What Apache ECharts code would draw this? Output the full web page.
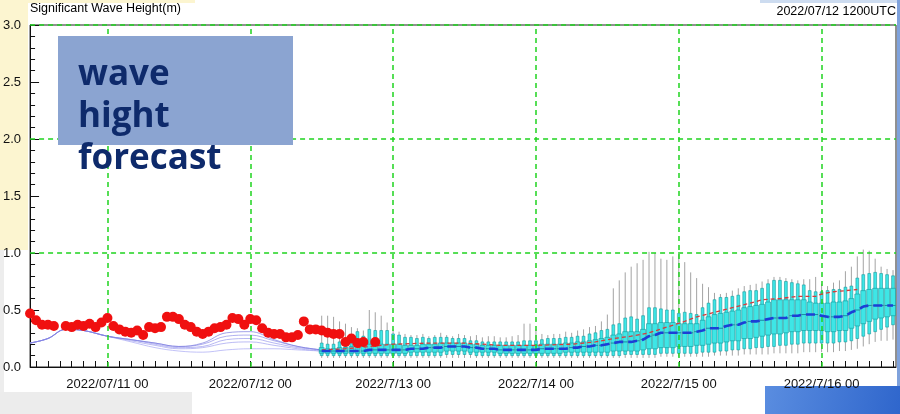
<!DOCTYPE html>
<html><head><meta charset="utf-8">
<script src="https://cdn.jsdelivr.net/npm/echarts@6/dist/echarts.min.js"></script>
<style>html,body{margin:0;padding:0;background:#fff}#c{width:900px;height:414px}</style>
</head><body><div id="c"></div>
<script>
// ---------- text ----------
const titleText = 'Significant Wave Height(m)';
const initText = '2022/07/12 1200UTC';
const overlayLines = ['wave', 'hight', 'forecast'];

// ---------- x axis (hours since 2022/07/10 00UTC) ----------
const dayHours = [24, 48, 72, 96, 120, 144];
const dayLabels = ['2022/07/11 00', '2022/07/12 00', '2022/7/13 00', '2022/7/14 00', '2022/7/15 00', '2022/7/16 00'];
const tickHours = [];
for (let h = 12; h <= 156; h += 2) tickHours.push(h);

// ---------- observations (red dots), hourly from h=11 ----------
const obsStart = 11;
const obsValues = [0.47,0.41,0.37,0.37,0.36,null,0.36,0.35,0.37,0.36,
  0.38,0.35,0.39,0.43,0.36,0.33,0.31,0.30,0.32,0.28,
  0.35,0.34,0.35,0.44,0.44,0.42,0.37,0.35,0.31,0.29,
  0.31,0.34,0.35,0.37,0.43,0.42,0.37,0.42,0.41,0.34,
  0.30,0.29,0.29,0.26,0.26,0.28,0.40,0.33,0.33,0.32,
  0.30,0.29,0.29,0.22,0.25,0.21,0.22,null,0.22];

// ---------- hindcast thin lines ----------
const hindHours = [11,14,17,20,24,28,32,36,40,44,48,52,56,60];
const hind1 = [0.21,0.25,0.33,0.32,0.27,0.24,0.21,0.18,0.21,0.30,0.31,0.24,0.18,0.15];
const hind2 = [0.21,0.25,0.33,0.32,0.27,0.24,0.21,0.18,0.20,0.27,0.28,0.23,0.18,0.15];
const hind3 = [0.21,0.25,0.33,0.32,0.27,0.24,0.20,0.17,0.18,0.24,0.25,0.21,0.17,0.15];
const hind4 = [0.21,0.25,0.33,0.32,0.27,0.23,0.19,0.16,0.17,0.21,0.22,0.19,0.16,0.14];
const hind5 = [0.21,0.25,0.33,0.32,0.27,0.22,0.17,0.14,0.13,0.15,0.16,0.16,0.15,0.14];

// ---------- ensemble box plots, hourly from h=60 ----------
const fcstStart = 60;
const boxMin = [0.08,0.08,0.08,0.08,0.08,0.08,0.08,0.08,0.08,0.08,
  0.08,0.08,0.08,0.08,0.08,0.08,0.08,0.08,0.08,0.08,
  0.08,0.08,0.08,0.08,0.08,0.08,0.08,0.08,0.08,0.08,
  0.08,0.08,0.08,0.08,0.08,0.08,0.08,0.08,0.08,0.08,
  0.08,0.08,0.08,0.08,0.08,0.08,0.08,0.08,0.08,0.08,
  0.08,0.08,0.08,0.08,0.08,0.08,0.08,0.09,0.09,0.09,
  0.09,0.09,0.09,0.09,0.09,0.09,0.10,0.10,0.10,0.10,
  0.10,0.11,0.11,0.11,0.11,0.11,0.12,0.12,0.12,0.12,
  0.12,0.13,0.13,0.13,0.13,0.13,0.13,0.14,0.14,0.15,
  0.16,0.18,0.20,0.22,0.23,0.23,0.24];
const boxP10 = [0.10,0.10,0.10,0.10,0.10,0.10,0.10,0.10,0.10,0.10,
  0.10,0.10,0.10,0.10,0.10,0.10,0.10,0.10,0.10,0.10,
  0.10,0.11,0.11,0.11,0.11,0.11,0.10,0.10,0.10,0.10,
  0.10,0.10,0.10,0.10,0.10,0.10,0.10,0.10,0.10,0.10,
  0.10,0.10,0.10,0.10,0.10,0.10,0.10,0.10,0.10,0.10,
  0.10,0.11,0.11,0.11,0.11,0.11,0.11,0.12,0.12,0.12,
  0.12,0.12,0.12,0.12,0.13,0.13,0.13,0.14,0.14,0.15,
  0.15,0.16,0.16,0.17,0.17,0.18,0.18,0.19,0.19,0.20,
  0.20,0.21,0.21,0.21,0.21,0.21,0.21,0.22,0.22,0.23,
  0.25,0.27,0.29,0.31,0.33,0.35,0.37];
const boxQ1 = [0.12,0.12,0.12,0.12,0.12,0.12,0.12,0.12,0.12,0.12,
  0.12,0.12,0.12,0.12,0.12,0.13,0.13,0.13,0.13,0.13,
  0.13,0.14,0.14,0.14,0.14,0.13,0.13,0.13,0.13,0.13,
  0.12,0.12,0.12,0.12,0.12,0.12,0.12,0.12,0.12,0.12,
  0.12,0.13,0.13,0.13,0.13,0.13,0.13,0.13,0.13,0.14,
  0.14,0.14,0.14,0.14,0.15,0.16,0.16,0.17,0.17,0.17,
  0.18,0.18,0.18,0.19,0.19,0.20,0.21,0.21,0.22,0.23,
  0.23,0.25,0.25,0.26,0.27,0.28,0.29,0.29,0.30,0.31,
  0.31,0.32,0.32,0.32,0.32,0.31,0.31,0.32,0.32,0.34,
  0.36,0.38,0.40,0.42,0.43,0.44,0.45];
const boxMed = [0.14,0.14,0.14,0.14,0.14,0.14,0.14,0.14,0.15,0.15,
  0.15,0.15,0.15,0.15,0.15,0.16,0.16,0.16,0.17,0.17,
  0.17,0.18,0.18,0.18,0.18,0.17,0.17,0.16,0.16,0.16,
  0.15,0.15,0.15,0.15,0.15,0.15,0.15,0.16,0.16,0.16,
  0.16,0.16,0.17,0.17,0.18,0.18,0.19,0.19,0.20,0.21,
  0.22,0.22,0.22,0.23,0.24,0.27,0.28,0.30,0.30,0.30,
  0.30,0.30,0.30,0.31,0.32,0.34,0.34,0.34,0.36,0.37,
  0.37,0.39,0.40,0.40,0.41,0.42,0.43,0.43,0.43,0.45,
  0.45,0.46,0.46,0.46,0.45,0.44,0.44,0.44,0.45,0.48,
  0.50,0.53,0.54,0.54,0.54,0.54,0.54];
const boxQ3 = [0.17,0.16,0.16,0.17,0.17,0.18,0.19,0.18,0.20,0.20,
  0.20,0.20,0.20,0.20,0.19,0.19,0.19,0.20,0.20,0.20,
  0.21,0.21,0.21,0.21,0.21,0.20,0.20,0.19,0.19,0.19,
  0.19,0.19,0.19,0.19,0.19,0.19,0.19,0.20,0.20,0.20,
  0.20,0.21,0.21,0.22,0.22,0.23,0.24,0.25,0.26,0.28,
  0.29,0.31,0.31,0.31,0.33,0.38,0.38,0.39,0.39,0.39,
  0.38,0.38,0.38,0.38,0.41,0.44,0.46,0.47,0.48,0.49,
  0.50,0.52,0.53,0.54,0.55,0.57,0.59,0.59,0.59,0.59,
  0.59,0.59,0.57,0.56,0.56,0.56,0.57,0.57,0.58,0.60,
  0.64,0.67,0.68,0.69,0.69,0.69,0.69];
const boxP90 = [0.21,0.20,0.20,0.22,0.22,0.28,0.31,0.27,0.33,0.32,
  0.32,0.32,0.29,0.28,0.26,0.26,0.25,0.26,0.25,0.26,
  0.26,0.26,0.25,0.25,0.25,0.23,0.23,0.22,0.22,0.22,
  0.22,0.22,0.22,0.22,0.23,0.23,0.23,0.24,0.25,0.25,
  0.25,0.26,0.26,0.27,0.27,0.29,0.30,0.32,0.33,0.37,
  0.38,0.43,0.44,0.42,0.45,0.52,0.52,0.51,0.50,0.50,
  0.47,0.48,0.47,0.46,0.52,0.56,0.59,0.61,0.61,0.62,
  0.63,0.66,0.67,0.67,0.69,0.73,0.76,0.76,0.75,0.74,
  0.73,0.72,0.67,0.66,0.66,0.67,0.68,0.68,0.70,0.71,
  0.78,0.81,0.82,0.83,0.82,0.81,0.80];
const boxMax = [0.45,0.45,0.44,0.40,0.38,0.35,0.34,0.32,0.50,0.48,
  0.45,0.39,0.33,0.31,0.29,0.28,0.28,0.29,0.27,0.28,
  0.30,0.28,0.27,0.29,0.28,0.27,0.28,0.26,0.27,0.27,
  0.26,0.26,0.27,0.28,0.38,0.38,0.33,0.29,0.28,0.29,
  0.29,0.31,0.30,0.32,0.33,0.35,0.36,0.40,0.46,0.69,
  0.76,0.83,0.88,0.91,0.94,1.01,1.00,0.95,0.94,0.97,
  0.99,0.92,0.83,0.78,0.73,0.70,0.65,0.64,0.65,0.67,
  0.69,0.71,0.72,0.73,0.75,0.77,0.79,0.79,0.78,0.77,
  0.76,0.77,0.77,0.79,0.73,0.71,0.74,0.76,0.84,0.88,
  0.97,1.03,1.02,0.95,0.88,0.86,0.85];

// ---------- control run (red dashed) ----------
const ctrlHours = [60,64,68,72,78,84,90,96,102,106,109,112,115,118,121,123,126,129,132,134,137,140,143,144,146,148,150];
const ctrlValues = [0.15,0.16,0.18,0.20,0.21,0.21,0.19,0.19,0.20,0.22,0.25,0.27,0.30,0.35,0.40,0.44,0.48,0.52,0.56,0.59,0.60,0.62,0.62,0.64,0.66,0.67,0.68];

// ---------- build ----------
const obsData = [];
obsValues.forEach((v, i) => { if (v !== null) obsData.push([obsStart + i, v]); });
const fcstHours = boxMed.map((_, i) => fcstStart + i);
const boxData = fcstHours.map((h, i) => [h, boxMin[i], boxP10[i], boxQ1[i], boxMed[i], boxQ3[i], boxP90[i], boxMax[i]]);
const medData = fcstHours.map((h, i) => [h, boxMed[i]]);
const ctrlData = ctrlHours.map((h, i) => [h, ctrlValues[i]]);
const pair = (arr) => hindHours.map((h, i) => [h, arr[i]]);

function renderBox(params, api) {
  const x = api.value(0);
  const p = [1,2,3,4,5,6,7].map(k => api.coord([x, api.value(k)]));
  const cx = p[0][0];
  const wN = 2.8, wW = 5;
  const fill = '#3ee6e6', edge = '#169a9e';
  return {
    type: 'group',
    children: [
      { type: 'line', shape: { x1: cx, y1: p[0][1], x2: cx, y2: p[6][1] }, style: { stroke: '#8c8c8c', lineWidth: 0.8 } },
      { type: 'rect', shape: { x: cx - wN / 2, y: p[5][1], width: wN, height: p[1][1] - p[5][1] }, style: { fill: fill, stroke: edge, lineWidth: 0.6 } },
      { type: 'rect', shape: { x: cx - wW / 2, y: p[4][1], width: wW, height: p[2][1] - p[4][1] }, style: { fill: fill, stroke: edge, lineWidth: 0.6 } },
      { type: 'line', shape: { x1: cx - wW / 2, y1: p[3][1], x2: cx + wW / 2, y2: p[3][1] }, style: { stroke: '#1a6e8e', lineWidth: 0.8 } }
    ]
  };
}

const gridLineData = [{ yAxis: 1 }, { yAxis: 2 }, { yAxis: 3 }].concat(dayHours.map(h => ({ xAxis: h })));
const hindStyle = (c) => ({ type: 'line', data: null, showSymbol: false, smooth: 0.4, z: 2, silent: true,
  lineStyle: { color: c, width: 1, opacity: 0.7 } });

const chart = echarts.init(document.getElementById('c'), null, { renderer: 'canvas', width: 900, height: 414 });
chart.setOption({
  animation: false,
  backgroundColor: '#ffffff',
  grid: { left: 30, right: 4, top: 25, bottom: 47, show: true, borderColor: '#222', borderWidth: 1, backgroundColor: 'transparent' },
  xAxis: {
    type: 'value', min: 11, max: 156.5,
    axisLine: { show: true, onZero: false, lineStyle: { color: '#111', width: 1 } },
    axisTick: { show: true, inside: true, length: 6, customValues: tickHours, lineStyle: { color: '#111' } },
    axisLabel: { customValues: dayHours, formatter: v => dayLabels[dayHours.indexOf(v)] || '',
      color: '#111', fontSize: 13, fontFamily: '"Liberation Sans", Arial, sans-serif', margin: 11 },
    splitLine: { show: false }
  },
  yAxis: {
    type: 'value', min: 0, max: 3, interval: 0.5,
    axisLine: { show: true, lineStyle: { color: '#111', width: 1 } },
    axisTick: { show: true, inside: true, length: 9, lineStyle: { color: '#111' } },
    minorTick: { show: true, splitNumber: 5, length: 5, lineStyle: { color: '#111' } },
    axisLabel: { formatter: v => v.toFixed(1), color: '#111', fontSize: 13, fontFamily: '"Liberation Sans", Arial, sans-serif', margin: 9 },
    splitLine: { show: false }, minorSplitLine: { show: false }
  },
  series: [
    Object.assign(hindStyle('#a8a8f4'), { data: pair(hind5) }),
    Object.assign(hindStyle('#a0a0f0'), { data: pair(hind4) }),
    Object.assign(hindStyle('#9898ec'), { data: pair(hind3) }),
    Object.assign(hindStyle('#8e8ee8'), { data: pair(hind2) }),
    Object.assign(hindStyle('#7a7ade'), { data: pair(hind1) }),
    { type: 'custom', renderItem: renderBox, data: boxData, z: 3, silent: true,
      encode: { x: 0, y: [1, 2, 3, 4, 5, 6, 7] } },
    { type: 'line', data: [[11, 0]], symbol: 'none', lineStyle: { opacity: 0 }, z: 4, silent: true,
      markLine: { silent: true, symbol: ['none', 'none'], label: { show: false },
        lineStyle: { color: '#1fd41f', type: [5, 4], width: 1.5 }, data: gridLineData } },
    { type: 'line', data: ctrlData, showSymbol: false, z: 5, silent: true,
      lineStyle: { color: '#d83a3a', width: 1.3, type: [4, 3] } },
    { type: 'line', data: medData, showSymbol: false, z: 6, silent: true,
      lineStyle: { color: '#1c3fd6', width: 2.6, type: [9, 5] } },
    { type: 'scatter', data: obsData, symbolSize: 10, z: 7, silent: true,
      itemStyle: { color: '#f01010', opacity: 1 } }
  ],
  graphic: [
    { type: 'rect', z: 0, shape: { x: 0, y: 0, width: 28, height: 250 }, style: { fill: '#fcf5d0' } },
    { type: 'rect', z: 0, shape: { x: 0, y: 0, width: 195, height: 3 }, style: { fill: '#fcf5d0' } },
    { type: 'rect', z: 0, shape: { x: 0, y: 250, width: 4, height: 142 }, style: { fill: '#ededed' } },
    { type: 'rect', z: 0, shape: { x: 0, y: 392, width: 192, height: 22 }, style: { fill: '#ececec' } },
    { type: 'rect', z: 0, shape: { x: 760, y: 0, width: 140, height: 3 }, style: { fill: '#cddcf0' } },
    { type: 'rect', z: 0, shape: { x: 897, y: 0, width: 3, height: 386 }, style: { fill: '#7fa2dc' } },
    { type: 'rect', z: 0, shape: { x: 765, y: 386, width: 135, height: 28 },
      style: { fill: new echarts.graphic.LinearGradient(0, 0, 1, 1, [{ offset: 0, color: '#5a8de0' }, { offset: 1, color: '#2f66cc' }]) } },
    { type: 'text', z: 10, style: { text: titleText, x: 30, y: 8.5, textVerticalAlign: 'middle',
      font: '12.5px "Liberation Sans", Arial, sans-serif', fill: '#000' } },
    { type: 'text', z: 10, style: { text: initText, x: 896, y: 11.5, textAlign: 'right', textVerticalAlign: 'middle',
      font: '12.5px "Liberation Sans", Arial, sans-serif', fill: '#000' } },
    { type: 'rect', z: 100, shape: { x: 58, y: 36, width: 235, height: 109 }, style: { fill: '#8ba4d1' } },
    { type: 'text', z: 101, style: { text: overlayLines[0], x: 78, y: 75, textVerticalAlign: 'middle',
      font: 'bold 35px "Open Sans", sans-serif', fill: '#0e2a6b' } },
    { type: 'text', z: 101, style: { text: overlayLines[1], x: 78, y: 117, textVerticalAlign: 'middle',
      font: 'bold 35px "Open Sans", sans-serif', fill: '#0e2a6b' } },
    { type: 'text', z: 101, style: { text: overlayLines[2], x: 78, y: 159, textVerticalAlign: 'middle',
      font: 'bold 35px "Open Sans", sans-serif', fill: '#0e2a6b' } }
  ]
});
</script>
</body></html>
